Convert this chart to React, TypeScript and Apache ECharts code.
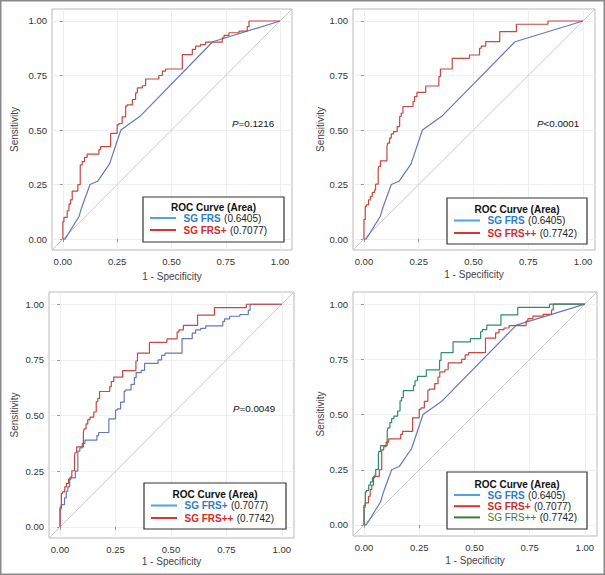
import React, { useEffect, useRef } from "react";
import * as echarts from "echarts";

// ROC curve points [1 - specificity, sensitivity]
const frs: number[][] = [
  [0, 0], [0.01, 0], [0.075, 0.105], [0.085, 0.14], [0.125, 0.25], [0.16, 0.265],
  [0.215, 0.345], [0.267, 0.5], [0.355, 0.563], [0.69, 0.905], [1, 1],
];

const frsPlus: number[][] = [
  [0, 0], [0, 0.06], [0.005, 0.08], [0.02, 0.1], [0.028, 0.13], [0.035, 0.16], [0.043, 0.18],
  [0.05, 0.22], [0.069, 0.22], [0.074, 0.25], [0.08, 0.25], [0.08, 0.325], [0.089, 0.34],
  [0.1, 0.355], [0.112, 0.375], [0.127, 0.39], [0.166, 0.39], [0.174, 0.41], [0.197, 0.424],
  [0.22, 0.424], [0.227, 0.485], [0.25, 0.485], [0.258, 0.524], [0.273, 0.53], [0.289, 0.56],
  [0.296, 0.61], [0.32, 0.615], [0.335, 0.64], [0.343, 0.67], [0.366, 0.693], [0.381, 0.703],
  [0.396, 0.734], [0.442, 0.734], [0.458, 0.75], [0.473, 0.77], [0.488, 0.78], [0.55, 0.78],
  [0.565, 0.846], [0.596, 0.846], [0.611, 0.87], [0.634, 0.885], [0.657, 0.892], [0.673, 0.903],
  [0.734, 0.903], [0.742, 0.923], [0.765, 0.934], [0.811, 0.946], [0.849, 0.954], [0.857, 0.974],
  [0.888, 1], [1, 1],
];

const frsPlusPlus: number[][] = [
  [0, 0], [0, 0.04], [0.006, 0.089], [0.011, 0.15], [0.021, 0.157], [0.029, 0.18], [0.038, 0.195],
  [0.049, 0.214], [0.053, 0.226], [0.059, 0.252], [0.065, 0.252], [0.067, 0.318], [0.075, 0.333],
  [0.082, 0.359], [0.105, 0.359], [0.108, 0.424], [0.117, 0.44], [0.125, 0.463], [0.135, 0.482],
  [0.152, 0.493], [0.163, 0.516], [0.17, 0.562], [0.178, 0.577], [0.19, 0.608], [0.224, 0.608],
  [0.231, 0.63], [0.242, 0.653], [0.251, 0.673], [0.282, 0.673], [0.285, 0.702], [0.342, 0.702],
  [0.349, 0.745], [0.353, 0.78], [0.403, 0.78], [0.409, 0.829], [0.482, 0.829], [0.49, 0.844],
  [0.528, 0.844], [0.536, 0.875], [0.556, 0.885], [0.571, 0.905], [0.62, 0.905], [0.635, 0.951],
  [0.696, 0.951], [0.708, 0.985], [0.84, 0.985], [0.851, 1], [1, 1],
];

const tickValues = [0, 0.25, 0.5, 0.75, 1];
const axisMin = -0.05;
const axisMax = 1.055;
const diagonal: number[][] = [[axisMin, axisMin], [axisMax, axisMax]];

const aucFrs = "(0.6405)";
const aucFrsPlus = "(0.7077)";
const aucFrsPlusPlus = "(0.7742)";
const pValues = ["=0.1216", "<0.0001", "=0.0049"];

const FONT = "'Liberation Sans', Arial, sans-serif";
const BLUE_LINE = "#6477c2";
const RED_LINE = "#c6483f";
const GREEN_LINE = "#2f8a72";
const BLUE_LEG = "#4fa3e6";
const RED_LEG = "#d83434";
const GREEN_LEG = "#3e7b3c";
const BLUE_TXT = "#2f7cc6";
const RED_TXT = "#d42a2a";
const GREEN_TXT = "#4f7242";
const LFS = 10;

type Curve = { data: number[][]; color: string; step: boolean };
type Row = { label: string; value: string; line: string; text: string; bold: boolean };

const panels = [
  {
    grid: { left: 52, top: 9, width: 240, height: 241 },
    yGap: 33, xGap: 21,
    curves: [
      { data: frs, color: BLUE_LINE, step: false },
      { data: frsPlus, color: RED_LINE, step: true },
    ] as Curve[],
    p: { x: 232, y: 123, text: pValues[0] },
    legend: {
      x: 143, y: 197, w: 141, h: 45, titleDy: 10, rowDy: 21, rowStep: 12,
      rows: [
        { label: "SG FRS", value: aucFrs, line: BLUE_LEG, text: BLUE_TXT, bold: true },
        { label: "SG FRS+", value: aucFrsPlus, line: RED_LEG, text: RED_TXT, bold: true },
      ] as Row[],
    },
  },
  {
    grid: { left: 353, top: 9, width: 242, height: 241 },
    yGap: 27, xGap: 19,
    curves: [
      { data: frs, color: BLUE_LINE, step: false },
      { data: frsPlusPlus, color: RED_LINE, step: true },
    ] as Curve[],
    p: { x: 537, y: 123, text: pValues[1] },
    legend: {
      x: 447, y: 198, w: 140, h: 46, titleDy: 11.5, rowDy: 22.5, rowStep: 12.5,
      rows: [
        { label: "SG FRS", value: aucFrs, line: BLUE_LEG, text: BLUE_TXT, bold: true },
        { label: "SG FRS++", value: aucFrsPlusPlus, line: RED_LEG, text: RED_TXT, bold: true },
      ] as Row[],
    },
  },
  {
    grid: { left: 49, top: 292, width: 245, height: 246 },
    yGap: 30, xGap: 18,
    curves: [
      { data: frsPlus, color: BLUE_LINE, step: true },
      { data: frsPlusPlus, color: RED_LINE, step: true },
    ] as Curve[],
    p: { x: 233, y: 408, text: pValues[2] },
    legend: {
      x: 144, y: 483, w: 142, h: 46, titleDy: 11.5, rowDy: 22.5, rowStep: 12.5,
      rows: [
        { label: "SG FRS+", value: aucFrsPlus, line: BLUE_LEG, text: BLUE_TXT, bold: true },
        { label: "SG FRS++", value: aucFrsPlusPlus, line: RED_LEG, text: RED_TXT, bold: true },
      ] as Row[],
    },
  },
  {
    grid: { left: 353, top: 292, width: 244, height: 244 },
    yGap: 27, xGap: 19,
    curves: [
      { data: frs, color: BLUE_LINE, step: false },
      { data: frsPlus, color: RED_LINE, step: true },
      { data: frsPlusPlus, color: GREEN_LINE, step: true },
    ] as Curve[],
    p: null as null | { x: number; y: number; text: string },
    legend: {
      x: 447, y: 472, w: 140, h: 57, titleDy: 12, rowDy: 23, rowStep: 11.2,
      rows: [
        { label: "SG FRS", value: aucFrs, line: BLUE_LEG, text: BLUE_TXT, bold: true },
        { label: "SG FRS+", value: aucFrsPlus, line: RED_LEG, text: RED_TXT, bold: true },
        { label: "SG FRS++", value: aucFrsPlusPlus, line: GREEN_LEG, text: GREEN_TXT, bold: false },
      ] as Row[],
    },
  },
];

export default function App() {
  const ref = useRef<HTMLDivElement>(null);

  useEffect(() => {
    document.body.style.margin = "0";
    if (!ref.current) return;
    const chart = echarts.init(ref.current, null, { renderer: "svg" });

    const grids: any[] = [];
    const xAxes: any[] = [];
    const yAxes: any[] = [];
    const series: any[] = [];
    const graphics: any[] = [
      {
        type: "rect",
        shape: { x: 0.75, y: 0.75, width: 603.5, height: 573.5 },
        style: { fill: "none", stroke: "#8a8a8a", lineWidth: 1.5 },
        silent: true,
        z: 100,
      },
    ];

    panels.forEach((p, i) => {
      grids.push({
        ...p.grid,
        show: true,
        borderColor: "#b9b9b9",
        borderWidth: 1,
        backgroundColor: "#ffffff",
      });
      const common = {
        gridIndex: i,
        type: "value",
        min: axisMin,
        max: axisMax,
        nameLocation: "middle",
        nameTextStyle: { fontFamily: FONT, fontSize: 10, color: "#444" },
        axisLine: { show: false },
        axisTick: { show: true, length: 3, lineStyle: { color: "#999" }, customValues: tickValues },
        axisLabel: {
          fontFamily: FONT,
          fontSize: 9.5,
          color: "#333",
          customValues: tickValues,
          formatter: (v: number) => v.toFixed(2),
        },
        splitLine: { show: true, lineStyle: { color: "#efefef", width: 1 } },
      };
      xAxes.push({ ...common, name: "1 - Specificity", nameGap: p.xGap, axisLabel: { ...common.axisLabel, margin: 6 } });
      yAxes.push({ ...common, name: "Sensitivity", nameGap: p.yGap, axisLabel: { ...common.axisLabel, margin: 5 } });

      series.push({
        type: "line",
        xAxisIndex: i,
        yAxisIndex: i,
        data: diagonal,
        symbol: "none",
        silent: true,
        lineStyle: { color: "#c9c9c9", width: 1 },
        z: 1,
      });
      p.curves.forEach((c, j) => {
        series.push({
          type: "line",
          xAxisIndex: i,
          yAxisIndex: i,
          data: c.data,
          step: c.step ? "start" : false,
          symbol: "none",
          silent: true,
          lineStyle: { color: c.color, width: 1.2 },
          z: 2 + j,
        });
      });

      if (p.p) {
        graphics.push({
          type: "text",
          x: p.p.x,
          y: p.p.y,
          style: {
            text: `{i|P}{n|${p.p.text}}`,
            verticalAlign: "middle",
            rich: {
              i: { fontFamily: FONT, fontSize: 9.8, fontStyle: "italic", fill: "#111" },
              n: { fontFamily: FONT, fontSize: 9.8, fill: "#111" },
            },
          },
          z: 50,
        });
      }

      const L = p.legend;
      graphics.push({
        type: "rect",
        shape: { x: L.x, y: L.y, width: L.w, height: L.h },
        style: { fill: "#fff", stroke: "#333", lineWidth: 1.2 },
        z: 50,
      });
      graphics.push({
        type: "text",
        x: L.x + L.w / 2,
        y: L.y + L.titleDy,
        style: {
          text: "ROC Curve (Area)",
          fontFamily: FONT,
          fontSize: LFS,
          lineHeight: LFS,
          fontWeight: "bold",
          fill: "#111",
          align: "center",
          verticalAlign: "middle",
        },
        z: 51,
      });
      L.rows.forEach((r, k) => {
        const y = L.y + L.rowDy + k * L.rowStep;
        graphics.push({
          type: "line",
          shape: { x1: L.x + 7, y1: y, x2: L.x + 33, y2: y },
          style: { stroke: r.line, lineWidth: 2 },
          z: 51,
        });
        graphics.push({
          type: "text",
          x: L.x + 40.5,
          y,
          style: {
            text: `{a|${r.label}} {b|${r.value}}`,
            verticalAlign: "middle",
            lineHeight: LFS,
            rich: {
              a: { fontFamily: FONT, fontSize: LFS, lineHeight: LFS, fontWeight: r.bold ? "bold" : "normal", fill: r.text },
              b: { fontFamily: FONT, fontSize: LFS, lineHeight: LFS, fill: "#222" },
            },
          },
          z: 51,
        });
      });
    });

    chart.setOption({
      animation: false,
      backgroundColor: "#ffffff",
      grid: grids,
      xAxis: xAxes,
      yAxis: yAxes,
      series,
      graphic: graphics,
    });

    return () => chart.dispose();
  }, []);

  return <div ref={ref} style={{ width: 605, height: 575 }} />;
}
